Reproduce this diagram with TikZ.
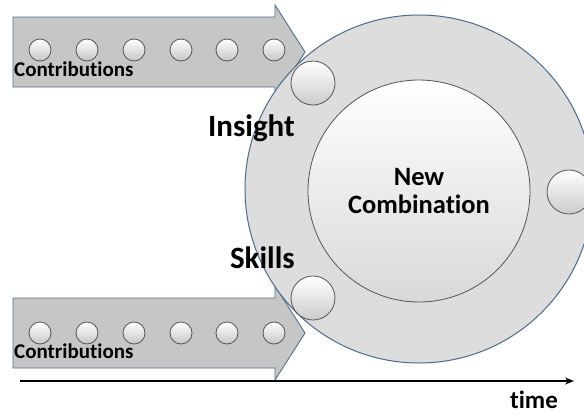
\documentclass[tikz,border=0pt]{standalone}
\usepackage{fontspec}
\setmainfont{Carlito}[Ligatures={NoCommon}]
\usetikzlibrary{arrows.meta}
\definecolor{arrowfill}{HTML}{C6C6C6}
\definecolor{arrowline}{HTML}{52708F}
\definecolor{ringfill}{HTML}{DDDDDD}
\definecolor{ringline}{HTML}{4A6A92}
\definecolor{ballline}{HTML}{555555}
\tikzset{
  flow/.style={fill=arrowfill, draw=arrowline, line width=0.9pt, line join=miter},
  ball/.style={circle, inner sep=0pt, minimum size=22pt, draw=ballline, line width=0.8pt, top color=white, bottom color=gray!45},
  bigball/.style={circle, inner sep=0pt, minimum size=44pt, draw=ballline, line width=0.8pt, top color=white, bottom color=gray!40},
  ring/.style={circle, inner sep=0pt, minimum size=348pt, fill=ringfill, draw=ringline, line width=1pt},
  core/.style={circle, inner sep=0pt, minimum size=222pt, draw=ballline, line width=0.8pt, top color=white, bottom color=gray!30},
  contrib/.style={font=\bfseries\fontsize{21}{25}\selectfont, anchor=base west, inner sep=0pt},
  biglabel/.style={font=\bfseries\fontsize{31}{36}\selectfont, anchor=base east, inner sep=0pt},
  corelabel/.style={font=\bfseries\fontsize{26.5}{28}\selectfont, anchor=base, inner sep=0pt},
  timelabel/.style={font=\bfseries\fontsize{25}{28}\selectfont, anchor=base, inner sep=0pt},
  axis/.style={line width=1.3pt, -{Stealth[length=9pt,width=7pt]}}
}
\begin{document}
\begin{tikzpicture}[x=1pt,y=-1pt]
\useasboundingbox (0,0) rectangle (584,416);
\clip (0,0) rectangle (584,416);
\fill[white] (0,0) rectangle (584,416);
% flow arrows
\draw[flow] (13,17) -- (275,17) -- (275,5) -- (305,52) -- (275,99) -- (275,87) -- (13,87) -- cycle;
\draw[flow] (13,298) -- (275,298) -- (275,286) -- (305,333) -- (275,380) -- (275,368) -- (13,368) -- cycle;
% contribution balls
\foreach \i/\x in {1/40,2/87,3/134,4/181,5/227,6/274}{
  \node[ball] (ta\i) at (\x,50) {};
  \node[ball] (ba\i) at (\x,333) {};
}
\node[contrib] (c1) at (14,76) {Contributions};
\node[contrib] (c2) at (14,358) {Contributions};
% ring and core
\node[ring] (ring) at (419,189) {};
\node[core] (core) at (419,191) {};
\node[bigball] (insball) at (313,83) {};
\node[bigball] (skball) at (313,298) {};
\node[bigball] (outball) at (569,192) {};
\node[corelabel] (new) at (419,185) {New};
\node[corelabel] (comb) at (419,213) {Combination};
\node[biglabel] (insight) at (295,136) {Insight};
\node[biglabel] (skills) at (295,268) {Skills};
% time axis
\coordinate (t0) at (20,381);
\coordinate (t1) at (574,381);
\draw[axis] (t0) -- (t1);
\node[timelabel] (time) at (534,408) {time};
\end{tikzpicture}
\end{document}
